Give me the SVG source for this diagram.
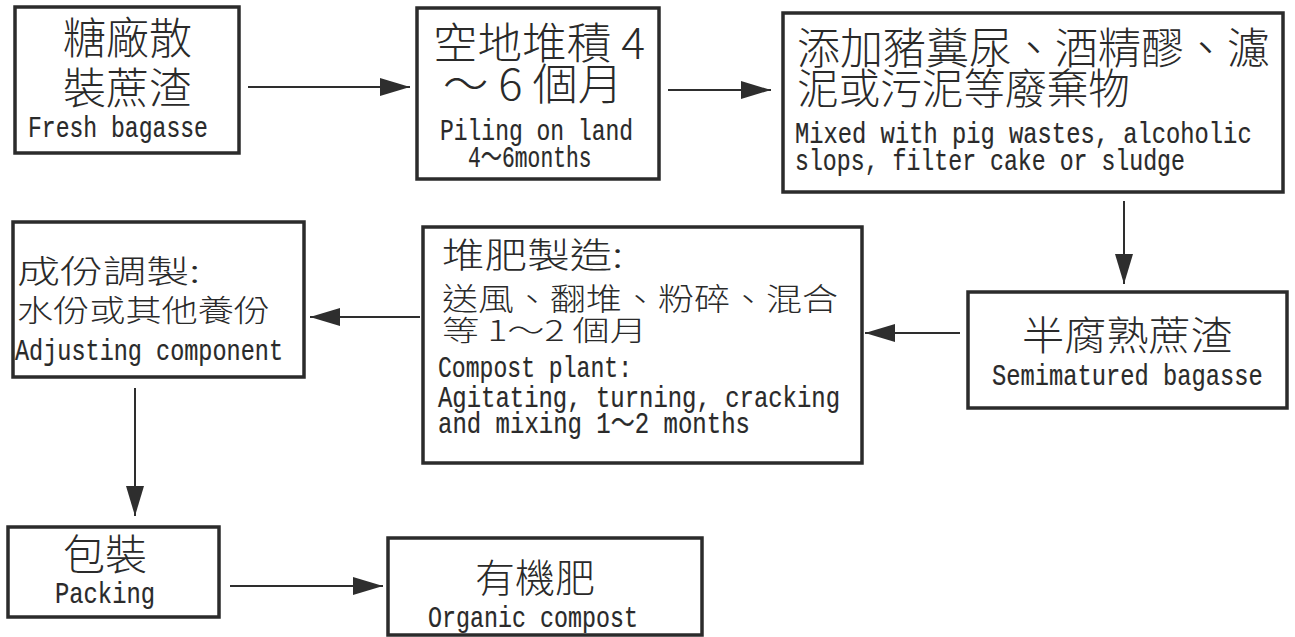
<svg xmlns="http://www.w3.org/2000/svg" width="1295" height="637" viewBox="0 0 1295 637">
<style>
.box{fill:#fff;stroke:#2b2b2b;stroke-width:3.5}
.zh{font-family:"Noto Sans CJK TC","Noto Sans CJK SC",sans-serif;font-weight:300;fill:#2a2a2a}
.en{font-family:"Liberation Mono","Noto Sans CJK TC",monospace;font-size:30px;fill:#2a2a2a;stroke:#2a2a2a;stroke-width:0.2}
.conn line{stroke:#2e2e2e;stroke-width:2}
</style>
<defs>
<marker id="ah" markerUnits="userSpaceOnUse" markerWidth="32" markerHeight="20" refX="30" refY="9" orient="auto">
<path d="M0,0 L30,9 L0,18 Z" fill="#2e2e2e"/>
</marker>
</defs>
<rect width="1295" height="637" fill="#fff"/>
<g class="conn">
<line x1="248" y1="87" x2="410" y2="87" marker-end="url(#ah)"/>
<line x1="668" y1="90" x2="771" y2="90" marker-end="url(#ah)"/>
<line x1="1124" y1="201" x2="1124" y2="284" marker-end="url(#ah)"/>
<line x1="960" y1="333" x2="865" y2="333" marker-end="url(#ah)"/>
<line x1="420" y1="317" x2="310" y2="317" marker-end="url(#ah)"/>
<line x1="135" y1="388" x2="135" y2="516" marker-end="url(#ah)"/>
<line x1="230" y1="586" x2="383" y2="586" marker-end="url(#ah)"/>
</g>
<g id="n1">
<rect class="box" x="15" y="7" width="224" height="146"/>
<text class="zh" x="63" y="54" font-size="43" textLength="129" lengthAdjust="spacingAndGlyphs">糖廠散</text>
<text class="zh" x="63" y="104" font-size="43" textLength="129" lengthAdjust="spacingAndGlyphs">裝蔗渣</text>
<text class="en" transform="translate(28,137) scale(0.769,1)">Fresh bagasse</text>
</g>
<g id="n2">
<rect class="box" x="417" y="8" width="242" height="171"/>
<text class="zh" x="433" y="59" font-size="43" textLength="212" lengthAdjust="spacingAndGlyphs">空地堆積 4</text>
<text class="zh" x="443" y="100" font-size="43" textLength="180" lengthAdjust="spacingAndGlyphs">～ 6 個月</text>
<text class="en" transform="translate(440,140) scale(0.766,1)">Piling on land</text>
<text class="en" transform="translate(468,167) scale(0.71,1)">4～6months</text>
</g>
<g id="n3">
<rect class="box" x="783" y="13" width="500" height="179"/>
<text class="zh" x="797" y="64" font-size="43" textLength="473" lengthAdjust="spacingAndGlyphs">添加豬糞尿、酒精醪、濾</text>
<text class="zh" x="797" y="104" font-size="42" textLength="333" lengthAdjust="spacingAndGlyphs">泥或污泥等廢棄物</text>
<text class="en" transform="translate(795,143) scale(0.793,1)">Mixed with pig wastes, alcoholic</text>
<text class="en" transform="translate(795,170) scale(0.774,1)">slops, filter cake or sludge</text>
</g>
<g id="n4">
<rect class="box" x="968" y="292" width="319" height="116"/>
<text class="zh" x="1022" y="350" font-size="40" textLength="211" lengthAdjust="spacingAndGlyphs">半腐熟蔗渣</text>
<text class="en" transform="translate(992,385) scale(0.792,1)">Semimatured bagasse</text>
</g>
<g id="n5">
<rect class="box" x="423" y="227" width="439" height="236"/>
<text class="zh" x="442" y="268" font-size="35" textLength="181" lengthAdjust="spacingAndGlyphs">堆肥製造:</text>
<text class="zh" x="442" y="310" font-size="31" textLength="396" lengthAdjust="spacingAndGlyphs">送風、翻堆、粉碎、混合</text>
<text class="zh" x="442" y="341" font-size="28" textLength="205" lengthAdjust="spacingAndGlyphs">等 1～2 個月</text>
<text class="en" transform="translate(438,377) scale(0.77,1)">Compost plant:</text>
<text class="en" transform="translate(438,407) scale(0.798,1)">Agitating, turning, cracking</text>
<text class="en" transform="translate(438,433) scale(0.8,1)">and mixing 1～2 months</text>
</g>
<g id="n6">
<rect class="box" x="13" y="222" width="291" height="155"/>
<text class="zh" x="17" y="283" font-size="32" textLength="183" lengthAdjust="spacingAndGlyphs">成份調製:</text>
<text class="zh" x="17" y="321" font-size="30" textLength="253" lengthAdjust="spacingAndGlyphs">水份或其他養份</text>
<text class="en" transform="translate(15,360) scale(0.784,1)">Adjusting component</text>
</g>
<g id="n7">
<rect class="box" x="8" y="527" width="211" height="90"/>
<text class="zh" x="63" y="570" font-size="42" textLength="84" lengthAdjust="spacingAndGlyphs">包裝</text>
<text class="en" transform="translate(55,603) scale(0.794,1)">Packing</text>
</g>
<g id="n8">
<rect class="box" x="388" y="538" width="314" height="97"/>
<text class="zh" x="475" y="592" font-size="39" textLength="120" lengthAdjust="spacingAndGlyphs">有機肥</text>
<text class="en" transform="translate(428,627) scale(0.778,1)">Organic compost</text>
</g>
</svg>
